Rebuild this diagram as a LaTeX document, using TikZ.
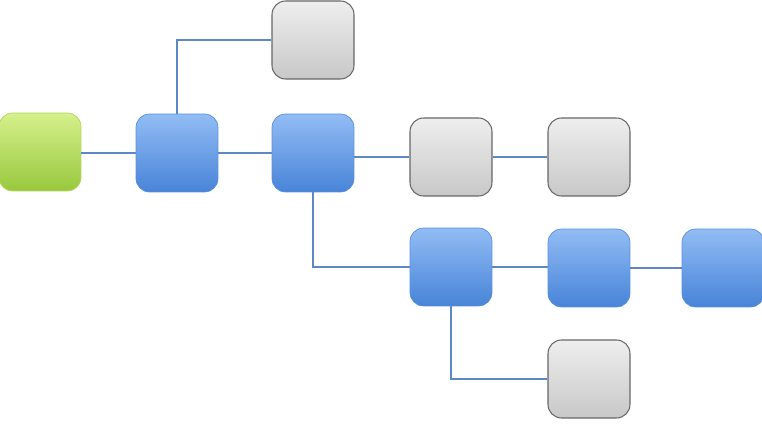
\documentclass[tikz,border=0pt]{standalone}
\usepackage{xcolor}
\definecolor{lightgreentop}{RGB}{214,240,140}
\definecolor{lightgreenbot}{RGB}{152,200,62}
\definecolor{bluetop}{RGB}{146,188,244}
\definecolor{bluebot}{RGB}{72,132,216}
\definecolor{graytop}{RGB}{238,238,238}
\definecolor{graybot}{RGB}{200,200,200}
\definecolor{linkblue}{RGB}{92,136,198}
\usepackage{tikz}

\tikzset{
  box/.style={rounded corners=0.27cm, minimum width=1.64cm, minimum height=1.56cm, inner sep=0pt},
  greenbox/.style={box, draw=lightgreenbot!60!lightgreentop, top color=lightgreentop, bottom color=lightgreenbot},
  bluebox/.style={box, draw=bluebot!80!bluetop, top color=bluetop, bottom color=bluebot},
  graybox/.style={box, draw=gray!80!black, line width=0.6pt, top color=graytop, bottom color=graybot},
  link/.style={draw=linkblue, line width=1.6pt}
}

\begin{document}
\begin{tikzpicture}[x=0.02cm, y=-0.02cm]
  \useasboundingbox (0,0) rectangle (762,439);

  % Boxes
  \node[greenbox] (root) at (40,152) {};
  \node[bluebox] (a) at (177,153) {};
  \node[bluebox] (b) at (313,153) {};
  \node[graybox] (top) at (313,40) {};
  \node[graybox] (c) at (451,157) {};
  \node[graybox] (d) at (589,157) {};
  \node[bluebox] (e) at (451,267) {};
  \node[bluebox] (f) at (589,268) {};
  \node[bluebox] (g) at (723,268) {};
  \node[graybox] (h) at (589,379) {};

  % Links
  \draw[link] (root.east |- a) -- (a);
  \draw[link] (a.north) |- (top);
  \draw[link] (a) -- (b);
  \draw[link] (b.east |- c) -- (c);
  \draw[link] (c) -- (d);
  \draw[link] (b.south) |- (e);
  \draw[link] (e) -- (f.west |- e);
  \draw[link] (f) -- (g);
  \draw[link] (e.south) |- (h);
\end{tikzpicture}
\end{document}
